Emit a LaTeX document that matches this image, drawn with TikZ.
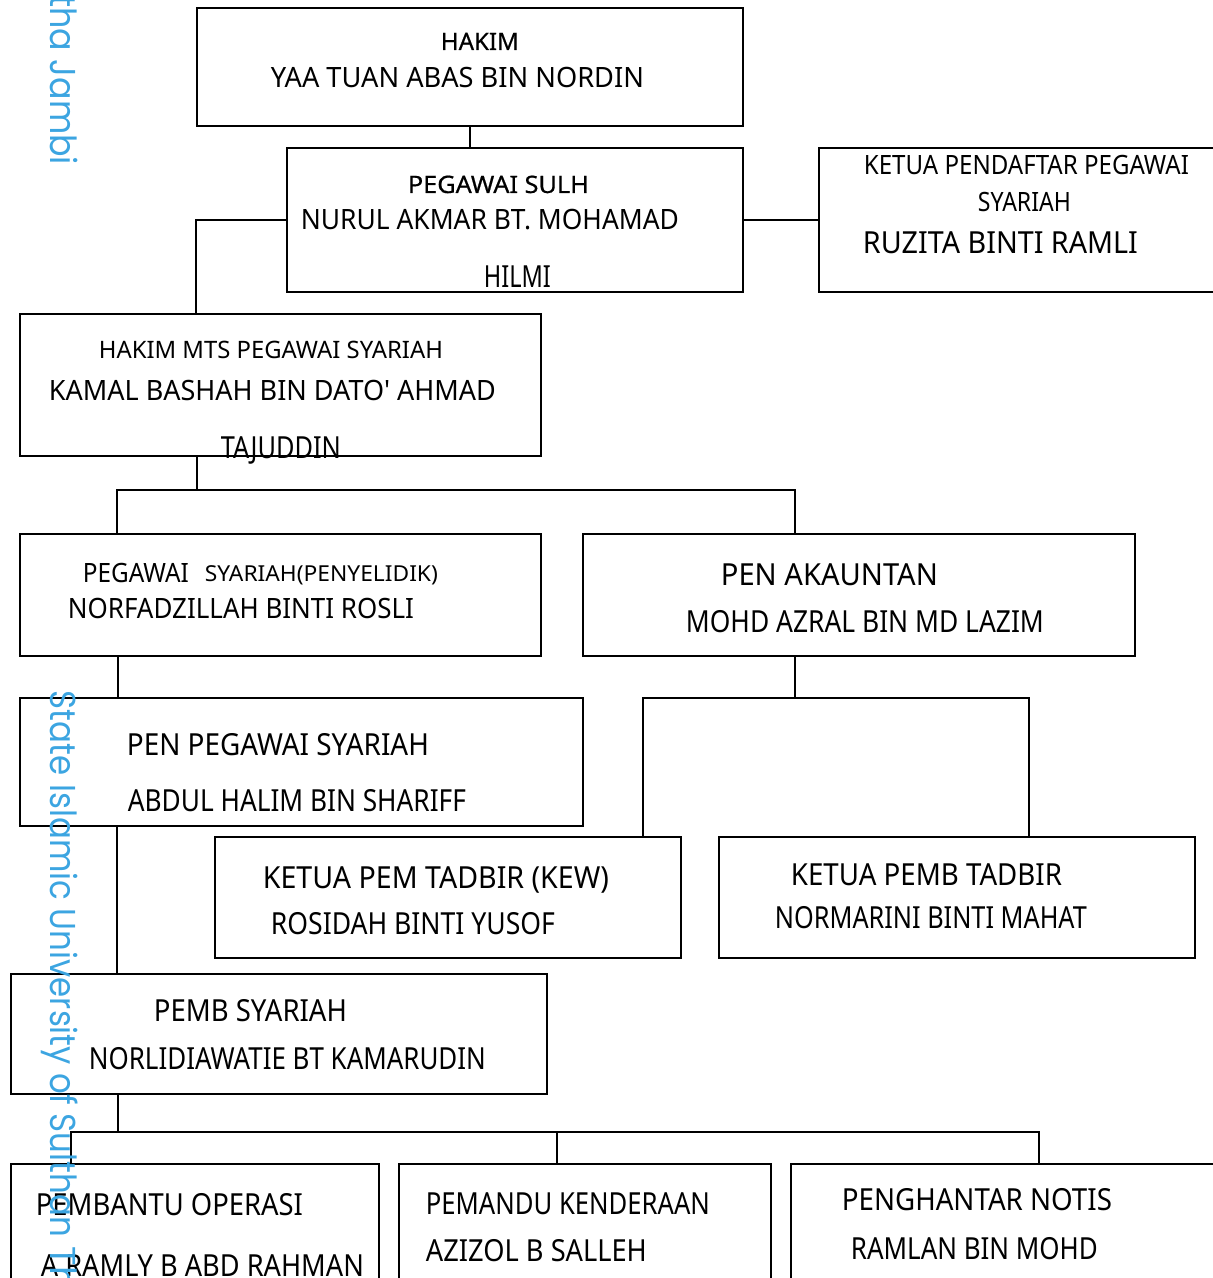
\documentclass[tikz,border=0pt]{standalone}
\usepackage{fontspec}
\setmainfont{Noto Sans}
\newfontfamily\medfont[FakeBold=0.6]{Noto Sans}
\newfontfamily\wmfont{Poppins}
\usepackage{graphicx}
\definecolor{wmblue}{RGB}{60,165,225}
\newcommand\fw[2]{\resizebox{#1pt}{\height}{#2}}
\tikzset{
  box/.style={draw, line width=1.1pt, inner sep=0pt},
  lbl/.style={anchor=base west, inner sep=0pt},
  ta/.style={font=\fontsize{11}{13}\selectfont},
  tb/.style={font=\fontsize{12}{14}\selectfont},
  tbm/.style={font=\medfont\fontsize{12}{14}\selectfont},
  tc/.style={font=\fontsize{13.3}{15}\selectfont},
  td/.style={font=\fontsize{14}{16}\selectfont},
  te/.style={font=\fontsize{15.2}{17}\selectfont},
  wm/.style={font=\wmfont\fontsize{18}{20}\selectfont, text=wmblue, inner sep=0pt}
}

\begin{document}
\begin{tikzpicture}[x=0.5pt,y=-0.5pt,line width=0.9pt]
        \useasboundingbox (0,0) rectangle (1213,1278);
        \node[box, minimum width=273pt, minimum height=59pt] (hakim) at (470,67) {};
        \node[box, minimum width=228pt, minimum height=72pt] (sulh) at (515,220) {};
        \node[box, minimum width=203pt, minimum height=72pt] (pendaftar) at (1022,220) {};
        \node[box, minimum width=260.5pt, minimum height=71pt] (mts) at (280.5,385) {};
        \node[box, minimum width=260.5pt, minimum height=61pt] (penyelidik) at (280.5,595) {};
        \node[box, minimum width=276pt, minimum height=61pt] (akauntan) at (859,595) {};
        \node[box, minimum width=281.5pt, minimum height=64pt] (penpegawai) at (301.5,762) {};
        \node[box, minimum width=233pt, minimum height=60.5pt] (kew) at (448,897.5) {};
        \node[box, minimum width=238pt, minimum height=60.5pt] (tadbir) at (957,897.5) {};
        \node[box, minimum width=268pt, minimum height=60pt] (pemb) at (279,1034) {};
        \node[box, minimum width=184pt, minimum height=68pt] (operasi) at (195,1232) {};
        \node[box, minimum width=186pt, minimum height=68pt] (pemandu) at (585,1232) {};
        \node[box, minimum width=217pt, minimum height=68pt] (notis) at (1008,1232) {};

        \node[lbl,tbm] (hakimA) at (440,50) {\fw{39}{HAKIM}};
        \node[lbl,td] (hakimB) at (270,88) {\fw{186.5}{YAA TUAN ABAS BIN NORDIN}};
        \node[lbl,tbm] (sulhA) at (407,193) {\fw{90.5}{PEGAWAI SULH}};
        \node[lbl,td] (sulhB) at (300,230) {\fw{189}{NURUL AKMAR BT. MOHAMAD}};
        \node[lbl,te] (sulhC) at (483,288) {\fw{33.5}{HILMI}};
        \node[lbl,tc] (pendaftarA) at (863,175) {\fw{162.5}{KETUA PENDAFTAR PEGAWAI}};
        \node[lbl,tc] (pendaftarB) at (977,211.5) {\fw{46.5}{SYARIAH}};
        \node[lbl,te] (pendaftarC) at (862,254) {\fw{137.5}{RUZITA BINTI RAMLI}};
        \node[lbl,tb] (mtsA) at (98,358.5) {\fw{172}{HAKIM MTS PEGAWAI SYARIAH}};
        \node[lbl,td] (mtsB) at (48,400) {\fw{223.5}{KAMAL BASHAH BIN DATO\textquotesingle{} AHMAD}};
        \node[lbl,te] (mtsC) at (220,458) {\fw{60}{TAJUDDIN}};
        \node[lbl,tc] (penyelidikA) at (82,582) {\fw{53}{PEGAWAI}};
        \node[lbl,ta] (penyelidikB) at (204,581.5) {\fw{116.5}{SYARIAH(PENYELIDIK)}};
        \node[lbl,td] (penyelidikC) at (67,618) {\fw{173}{NORFADZILLAH BINTI ROSLI}};
        \node[lbl,te] (akauntanA) at (720,585) {\fw{108.5}{PEN AKAUNTAN}};
        \node[lbl,te] (akauntanB) at (685,632) {\fw{179}{MOHD AZRAL BIN MD LAZIM}};
        \node[lbl,te] (penpegawaiA) at (126,755) {\fw{151}{PEN PEGAWAI SYARIAH}};
        \node[lbl,te] (penpegawaiB) at (127,811) {\fw{169}{ABDUL HALIM BIN SHARIFF}};
        \node[lbl,te] (kewA) at (262,888) {\fw{173}{KETUA PEM TADBIR (KEW)}};
        \node[lbl,te] (kewB) at (270,934) {\fw{142}{ROSIDAH BINTI YUSOF}};
        \node[lbl,te] (tadbirA) at (790,885) {\fw{135.5}{KETUA PEMB TADBIR}};
        \node[lbl,te] (tadbirB) at (774,928) {\fw{156}{NORMARINI BINTI MAHAT}};
        \node[lbl,te] (pembA) at (153,1021) {\fw{96.5}{PEMB SYARIAH}};
        \node[lbl,te] (pembB) at (88,1069) {\fw{198.5}{NORLIDIAWATIE BT KAMARUDIN}};
        \node[lbl,te] (operasiA) at (35,1215) {\fw{133.5}{PEMBANTU OPERASI}};
        \node[lbl,te] (operasiB) at (40,1276) {\fw{161.5}{A RAMLY B ABD RAHMAN}};
        \node[lbl,te] (pemanduA) at (425,1214) {\fw{142}{PEMANDU KENDERAAN}};
        \node[lbl,te] (pemanduB) at (425,1261) {\fw{110.5}{AZIZOL B SALLEH}};
        \node[lbl,te] (notisA) at (841,1210) {\fw{135}{PENGHANTAR NOTIS}};
        \node[lbl,te] (notisB) at (850,1259) {\fw{123.5}{RAMLAN BIN MOHD}};

        \coordinate (j1) at (197,490);
        \coordinate (j1l) at (117,490);
        \coordinate (j1r) at (795,490);
        \coordinate (j2) at (795,698);
        \coordinate (j2l) at (643,698);
        \coordinate (j2r) at (1029,698);
        \coordinate (j3) at (118,1132);
        \coordinate (j3l) at (71,1132);
        \coordinate (j3m) at (557,1132);
        \coordinate (j3r) at (1039,1132);

        \draw (hakim.south) -- (hakim.south |- sulh.north);
        \draw (sulh.east) -- (pendaftar.west);
        \draw (sulh.west) -| (hakim.west |- mts.north);
        \draw (mts.south -| j1) -- (j1);
        \draw (j1l |- penyelidik.north) -- (j1l) -- (j1r) -- (j1r |- akauntan.north);
        \draw (penyelidik.south -| j3) -- (j3 |- penpegawai.north);
        \draw (penpegawai.south -| j1l) -- (j1l |- pemb.north);
        \draw (akauntan.south -| j2) -- (j2);
        \draw (j2l |- kew.north) -- (j2l) -- (j2r) -- (j2r |- tadbir.north);
        \draw (pemb.south -| j3) -- (j3);
        \draw (j3l |- operasi.north) -- (j3l) -- (j3r) -- (j3r |- notis.north);
        \draw (j3m) -- (j3m |- pemandu.north);

        \node[wm, rotate=-90, anchor=base east] (wmtop) at (50,166) {\fw{85}{tha Jambi}};
        \node[wm, rotate=-90, anchor=base west] (wmlow) at (50,690) {\fw{273}{State Islamic University of Sulthan}\ Tha};
\end{tikzpicture}
\end{document}
